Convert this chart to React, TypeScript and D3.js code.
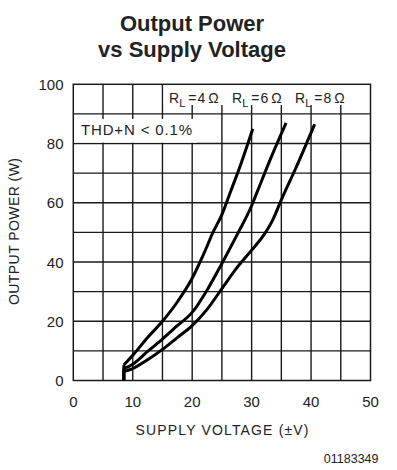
import React from "react";
import * as d3 from "d3";

// ---- data ----
const xTicks = [0, 10, 20, 30, 40, 50];
const yTicks = [0, 20, 40, 60, 80, 100];
const xGrid = [5, 10, 15, 20, 25, 30, 35, 40, 45];
const yGrid = [10, 20, 30, 40, 50, 60, 70, 80, 90];
const loadLabels = ["4", "6", "8"];

// [supply voltage (±V), output power (W)]
const rl4Ohm: [number, number][] = [
  [8.5, 0], [8.5, 5.2], [10, 8.5], [12.5, 14.5], [15, 20], [17.5, 26.5], [20, 34.5],
  [22, 43], [23.5, 50], [25, 56], [26.5, 64], [28, 72], [30.2, 85],
];
const rl6Ohm: [number, number][] = [
  [8.5, 0], [8.5, 4], [10, 5.5], [12.5, 9.8], [15, 14], [17.5, 18.5], [20, 23],
  [22.5, 30.5], [25, 39.5], [27.5, 49], [30, 59], [31, 64], [33, 74], [35.8, 87],
];
const rl8Ohm: [number, number][] = [
  [8.5, 0], [8.5, 3], [10, 4], [12.5, 7], [15, 10.5], [17.5, 14.5], [20, 18.5],
  [22.5, 24], [25, 31], [27.5, 38], [30, 44], [32, 49], [33.5, 54], [35, 61],
  [37.5, 72], [40.6, 86.5],
];
const series = [rl4Ohm, rl6Ohm, rl8Ohm];

const title1 = "Output Power";
const title2 = "vs Supply Voltage";
const xTitle = "SUPPLY VOLTAGE (±V)";
const yTitle = "OUTPUT POWER (W)";
const thdLabel = "THD+N < 0.1%";
const figId = "01183349";

const W = 397;
const H = 470;
const left = 73.3, right = 370.5, top = 84.3, bottom = 380.5;
const narrow = "'Liberation Sans Narrow', 'Liberation Sans', Arial, sans-serif";

export default function App() {
  const x = d3.scaleLinear().domain([0, 50]).range([left, right]);
  const y = d3.scaleLinear().domain([0, 100]).range([bottom, top]);
  const lin = d3.line<[number, number]>().x((d) => x(d[0])).y((d) => y(d[1]));
  const smooth = d3
    .line<[number, number]>()
    .x((d) => x(d[0]))
    .y((d) => y(d[1]))
    .curve(d3.curveMonotoneX);
  const gridColor = "#1a1a1a";
  return (
    <svg width={W} height={H} style={{ position: "absolute", left: 0, top: 0, background: "#fff" }}>
      <rect x={0} y={0} width={W} height={H} fill="#fff" />
      <text x={192} y={31} textAnchor="middle" fontFamily="'Liberation Sans', Arial, sans-serif" fontWeight="bold" fontSize={22} fill="#222">
        {title1}
      </text>
      <text x={192} y={57} textAnchor="middle" fontFamily="'Liberation Sans', Arial, sans-serif" fontWeight="bold" fontSize={22} fill="#222">
        {title2}
      </text>
      {/* grid */}
      {xGrid.map((v) => (
        <line key={"vx" + v} x1={x(v)} x2={x(v)} y1={top} y2={bottom} stroke={gridColor} strokeWidth={1.4} />
      ))}
      {yGrid.map((v) => (
        <line key={"hy" + v} x1={left} x2={right} y1={y(v)} y2={y(v)} stroke={gridColor} strokeWidth={1.4} />
      ))}
      {/* label boxes */}
      <rect x={x(15.2)} y={top} width={right - x(15.2)} height={y(93) - top} fill="#fff" />
      <rect x={left} y={y(88.3)} width={x(20.7) - left} height={y(80.3) - y(88.3)} fill="#fff" />
      <rect x={left} y={top} width={right - left} height={bottom - top} fill="none" stroke={gridColor} strokeWidth={1.5} />
      {/* curves */}
      {series.map((s, i) => (
        <g key={"s" + i}>
          <path d={lin(s.slice(0, 2)) || ""} fill="none" stroke="#000" strokeWidth={3} />
          <path d={smooth(s.slice(1)) || ""} fill="none" stroke="#000" strokeWidth={3} strokeLinejoin="round" />
        </g>
      ))}
      {/* tick labels */}
      {xTicks.map((v) => (
        <text key={"xt" + v} x={x(v)} y={407} textAnchor="middle" fontFamily={narrow} fontSize={15} fill="#222">
          {v}
        </text>
      ))}
      {yTicks.map((v) => (
        <text key={"yt" + v} x={63.5} y={y(v) + 5.5} textAnchor="end" fontFamily={narrow} fontSize={15} fill="#222">
          {v}
        </text>
      ))}
      <text x={222} y={435} textAnchor="middle" fontFamily={narrow} fontSize={14} fill="#222" textLength={173} lengthAdjust="spacing">
        {xTitle}
      </text>
      <text transform="translate(19,231.5) rotate(-90)" textAnchor="middle" fontFamily={narrow} fontSize={14} fill="#222" textLength={147} lengthAdjust="spacing">
        {yTitle}
      </text>
      <text x={81} y={134.5} fontFamily={narrow} fontSize={15} fill="#222" textLength={111} lengthAdjust="spacing">
        {thdLabel}
      </text>
      {loadLabels.map((r, i) => (
        <text key={"rl" + r} x={169 + i * 63} y={103} fontFamily={narrow} fontSize={14} fill="#222">
          R
          <tspan fontSize={11} dy={4}>L</tspan>
          <tspan dy={-4} dx={3}>{"="}</tspan>
          <tspan dx={1}>{r}</tspan>
          <tspan dx={3}>Ω</tspan>
        </text>
      ))}
      <text x={378.5} y={462.5} textAnchor="end" fontFamily="'Liberation Sans', Arial, sans-serif" fontSize={12.5} fill="#222">
        {figId}
      </text>
    </svg>
  );
}
